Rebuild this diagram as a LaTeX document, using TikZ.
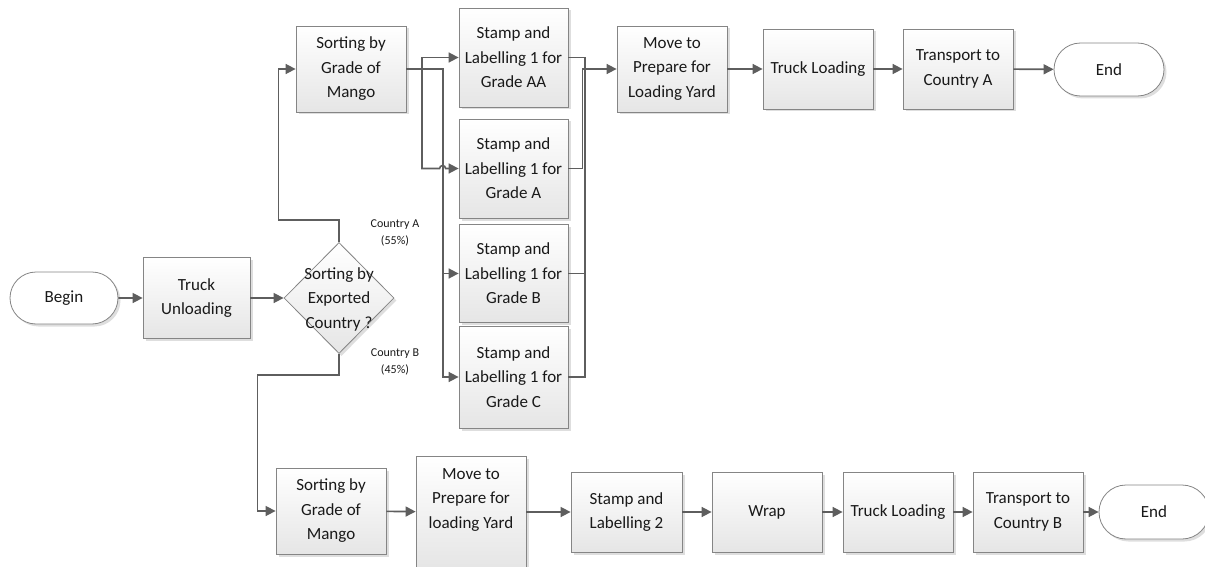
\documentclass[tikz,border=0pt]{standalone}
\usepackage{fontspec}
\setmainfont{Carlito}
\usetikzlibrary{arrows.meta,shapes.geometric,shapes.misc,shadows}

\definecolor{linegray}{HTML}{5E5E5E}
\definecolor{edgegray}{HTML}{858585}

\begin{document}
\begin{tikzpicture}[x=1pt,y=-1pt,
  base/.style={draw=edgegray, line width=0.8pt, inner sep=0pt, align=center,
    font=\fontsize{17}{24.5}\selectfont, text=black!90,
    drop shadow={shadow xshift=2.5pt, shadow yshift=-2.5pt, fill=black!13, opacity=1}},
  proc/.style={base, rectangle, top color=white, bottom color=black!10,
    minimum width=110pt, minimum height=80pt},
  term/.style={base, rounded rectangle, fill=white,
    minimum width=108pt, minimum height=52pt},
  decision/.style={base, diamond, top color=white, bottom color=black!10,
    minimum width=110pt, minimum height=111pt},
  plaintext/.style={inner sep=0pt, align=center, text=black!90,
    font=\fontsize{17}{24.5}\selectfont},
  branch/.style={inner sep=0pt, align=center, text=black!90,
    font=\fontsize{12}{17}\selectfont},
  flow/.style={draw=linegray, line width=1.6pt, -{Triangle[length=10pt,width=10pt]}},
  bus/.style={draw=linegray, line width=1.2pt}]

\useasboundingbox (0,0) rectangle (1205,567);

% ---- entry ----
\node[term] (begin) at (64,298) {Begin};
\node[proc, minimum width=107pt, minimum height=81pt] (unload) at (196.5,298) {Truck\\Unloading};
\node[decision] (dec) at (339,298) {};
\node[plaintext] (dectext) at (339,299) {Sorting by\\Exported\\Country ?};
\node[branch] (brA) at (395,233) {Country A\\(55\%)};
\node[branch] (brB) at (395,362) {Country B\\(45\%)};

% ---- country A route ----
\node[proc, minimum height=86pt] (sortA) at (351,69) {Sorting by\\Grade of\\Mango};
\node[proc, minimum width=109pt, minimum height=99pt] (stAA) at (513.5,57.5) {Stamp and\\Labelling 1 for\\Grade AA};
\node[proc, minimum width=109pt, minimum height=99pt] (stA) at (513.5,168.5) {Stamp and\\Labelling 1 for\\Grade A};
\node[proc, minimum width=109pt, minimum height=98pt] (stB) at (513.5,273.5) {Stamp and\\Labelling 1 for\\Grade B};
\node[proc, minimum width=109pt, minimum height=102pt] (stC) at (513.5,377) {Stamp and\\Labelling 1 for\\Grade C};
\node[proc, minimum height=86pt] (moveA) at (672,69) {Move to\\Prepare for\\Loading Yard};
\node[proc] (truckA) at (818,69) {Truck Loading};
\node[proc] (transA) at (958,69) {Transport to\\Country A};
\node[term, minimum width=110pt, minimum height=53pt] (endA) at (1109,69.5) {End};

% ---- country B route ----
\node[proc, minimum height=86pt] (sortB) at (331,511) {Sorting by\\Grade of\\Mango};
\node[proc, minimum height=112pt] (moveB) at (471,512) {};
\node[plaintext] (moveBtext) at (471,500) {Move to\\Prepare for\\loading Yard};
\node[proc, minimum width=111pt] (stamp2) at (626.5,512) {Stamp and\\Labelling 2};
\node[proc] (wrap) at (767,512) {Wrap};
\node[proc] (truckB) at (898,512) {Truck Loading};
\node[proc] (transB) at (1028,512) {Transport to\\Country B};
\node[term, minimum width=110pt, minimum height=54pt] (endB) at (1154,512) {End};

% ---- junction points ----
\coordinate (sa1) at (422,69);
\coordinate (sa2) at (443,69);
\coordinate (rbTop) at (585,57.5);
\coordinate (rbBot) at (585,377);

% ---- connectors: entry and decision ----
\draw[flow] (begin) -- (unload);
\draw[flow] (unload) -- (dec);
\draw[flow] (dec.north) -- ++(0,-22) -| ([xshift=-17pt]sortA.west) -- (sortA.west);
\draw[flow] (dec.south) -- ++(0,21) -| ([xshift=-18pt]sortB.west) -- (sortB.west);

% ---- connectors: grading fan-out ----
\draw[flow] (sortA.east) -- (sa1) |- (stAA.west);
\draw[flow] (sa1) |- ([xshift=-19pt]stA.west)
  arc[start angle=180, end angle=0, radius=3pt] -- (stA.west);
\draw[flow] (sortA.east) -- (sa2) |- (stB.west);
\draw[flow] (sa2) |- (stC.west);

% ---- connectors: merge into loading yard ----
\draw[bus] (stAA.east) -- (rbTop) -- (rbBot) -- (stC.east);
\draw[bus] (stB.east) -- (stB.east -| rbTop);
\draw[flow] (stA.east) -- ++(14,0) |- (moveA.west);

% ---- connectors: country A chain ----
\draw[flow] (moveA) -- (truckA);
\draw[flow] (truckA) -- (transA);
\draw[flow] (transA) -- (endA);

% ---- connectors: country B chain ----
\draw[flow] (sortB) -- (moveB);
\draw[flow] (moveB) -- (stamp2);
\draw[flow] (stamp2) -- (wrap);
\draw[flow] (wrap) -- (truckB);
\draw[flow] (truckB) -- (transB);
\draw[flow] (transB) -- (endB);

\end{tikzpicture}
\end{document}
